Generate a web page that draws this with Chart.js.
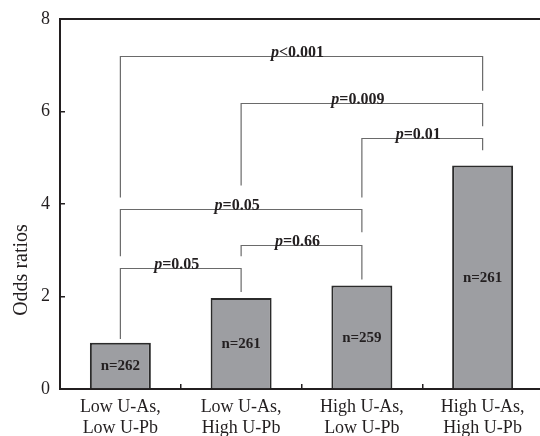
<!DOCTYPE html>
<html>
<head>
<meta charset="utf-8">
<script src="https://cdn.jsdelivr.net/npm/chart.js@4.4.1/dist/chart.umd.min.js"></script>
<style>
  html, body { margin: 0; padding: 0; background: #fff; overflow: hidden; }
  #wrap { width: 543px; height: 436px; }
</style>
</head>
<body>
<div id="wrap"><canvas id="myChart" width="543" height="436"></canvas></div>
<script>
const categories = [
  ["Low U-As,", "Low U-Pb"],
  ["Low U-As,", "High U-Pb"],
  ["High U-As,", "Low U-Pb"],
  ["High U-As,", "High U-Pb"],
];
const oddsRatios = [1.0, 1.97, 2.24, 4.83];
const sampleSizes = ["n=262", "n=261", "n=259", "n=261"];
const yTicks = [0, 2, 4, 6, 8];

// comparison brackets: from/to bar index, height of the bar line, bottoms of the two legs
const pLabels = ["<0.001", "=0.009", "=0.01", "=0.05", "=0.66", "=0.05"];
const pFrom = [0, 1, 2, 0, 1, 0];
const pTo = [3, 3, 3, 2, 2, 1];
const pLevel = [7.21, 6.19, 5.43, 3.89, 3.12, 2.62];
const pLegFrom = [4.14, 4.4, 4.14, 2.87, 2.87, 1.08];
const pLegTo = [6.45, 5.68, 5.16, 3.39, 2.37, 2.1];

const SERIF = "'Liberation Serif', 'Times New Roman', serif";
const INK = "#231f20";

const extras = {
  id: "extras",
  afterDraw(chart) {
    const c = chart.ctx;
    const x = chart.scales.x;
    const y = chart.scales.y;
    const area = chart.chartArea;
    c.save();

    // top frame line
    c.strokeStyle = INK;
    c.lineWidth = 2;
    c.beginPath();
    c.moveTo(area.left - 1, area.top);
    c.lineTo(area.right, area.top);
    c.stroke();

    // n= labels inside bars
    c.fillStyle = INK;
    c.font = "bold 15px " + SERIF;
    c.textAlign = "center";
    c.textBaseline = "middle";
    chart.getDatasetMeta(0).data.forEach((bar, i) => {
      c.fillText(sampleSizes[i], bar.x, (bar.y + bar.base) / 2 + 1);
    });

    // brackets
    for (let i = 0; i < pLabels.length; i++) {
      const x1 = x.getPixelForValue(pFrom[i]);
      const x2 = x.getPixelForValue(pTo[i]);
      const yl = Math.round(y.getPixelForValue(pLevel[i])) + 0.5;
      c.strokeStyle = "#6a6a6a";
      c.lineWidth = 1.2;
      c.beginPath();
      c.moveTo(x1, y.getPixelForValue(pLegFrom[i]));
      c.lineTo(x1, yl);
      c.lineTo(x2, yl);
      c.lineTo(x2, y.getPixelForValue(pLegTo[i]));
      c.stroke();

      const fp = "italic bold 16px " + SERIF;
      const fr = "bold 16px " + SERIF;
      c.font = fp;
      const wp = c.measureText("p").width;
      c.font = fr;
      const wr = c.measureText(pLabels[i]).width;
      const start = (x1 + x2) / 2 - (wp + wr) / 2 - 4;
      c.textAlign = "left";
      c.textBaseline = "alphabetic";
      c.fillStyle = INK;
      c.font = fp;
      c.fillText("p", start, yl);
      c.font = fr;
      c.fillText(pLabels[i], start + wp, yl);
    }

    // y axis title
    c.save();
    c.translate(22, (area.top + area.bottom) / 2 + 66);
    c.rotate(-Math.PI / 2);
    c.font = "20px " + SERIF;
    c.fillStyle = INK;
    c.textAlign = "center";
    c.textBaseline = "middle";
    c.fillText("Odds ratios", 0, 0);
    c.restore();

    c.restore();
  },
};

const ctx = document.getElementById("myChart");

const chart = new Chart(ctx, {
  type: "bar",
  data: {
    labels: categories,
    datasets: [
      {
        data: oddsRatios,
        backgroundColor: "#9d9ea2",
        borderColor: "#2b2b2b",
        borderWidth: 2,
        borderSkipped: "bottom",
        categoryPercentage: 1,
        barPercentage: 0.505,
      },
    ],
  },
  options: {
    responsive: false,
    animation: false,
    layout: { padding: { top: 19, left: 0, right: 0, bottom: 0 } },
    plugins: {
      legend: { display: false },
      tooltip: { enabled: false },
    },
    scales: {
      x: {
        grid: {
          drawOnChartArea: false,
          drawTicks: true,
          tickLength: -5,
          color: INK,
          lineWidth: 1.5,
        },
        border: { display: true, color: INK, width: 2 },
        ticks: {
          color: INK,
          padding: 13,
          font: { family: SERIF, size: 18, lineHeight: 1.15 },
          maxRotation: 0,
        },
        afterFit(scale) {
          scale.height = 47;
          scale.paddingLeft = 0;
          scale.paddingRight = 0;
        },
      },
      y: {
        min: 0,
        max: 8,
        afterBuildTicks(scale) {
          scale.ticks = yTicks.map((v) => ({ value: v }));
        },
        grid: {
          drawOnChartArea: false,
          drawTicks: true,
          tickLength: -5,
          color: INK,
          lineWidth: 1.5,
        },
        border: { display: true, color: INK, width: 2 },
        ticks: {
          color: INK,
          padding: 15,
          font: { family: SERIF, size: 18 },
        },
        afterFit(scale) {
          scale.width = 60;
          scale.paddingTop = 0;
          scale.paddingBottom = 0;
        },
      },
    },
  },
  plugins: [extras],
});
</script>
</body>
</html>
